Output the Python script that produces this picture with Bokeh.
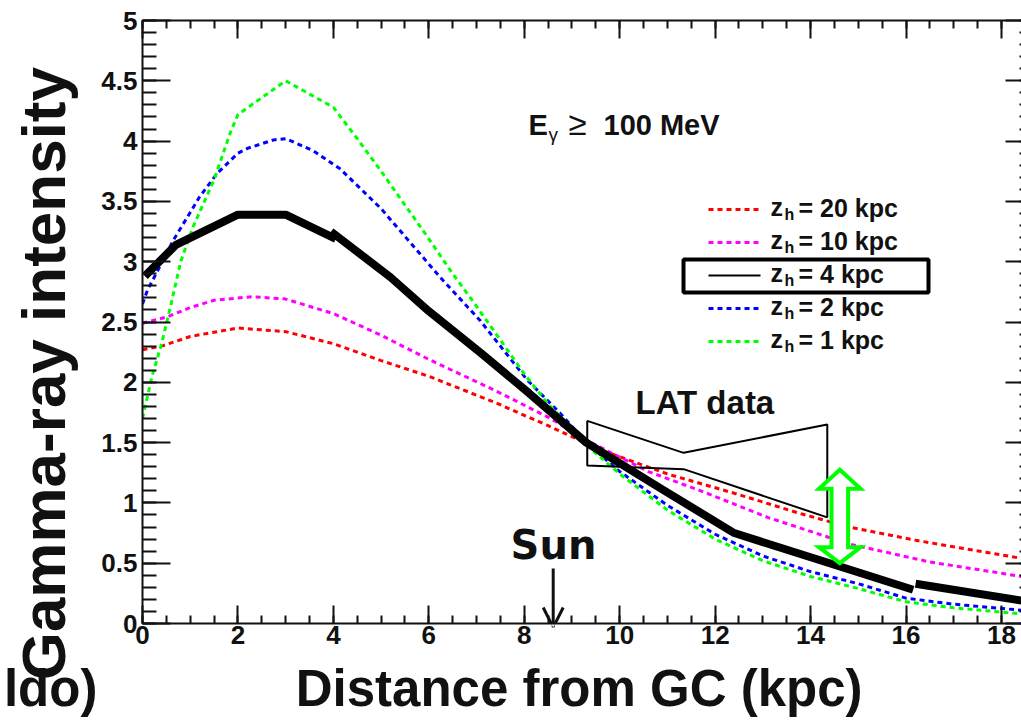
import math
from bokeh.plotting import figure
from bokeh.models import (Range1d, LinearAxis, SingleIntervalTicker, CustomJSTickFormatter,
                          Arrow, OpenHead)
from bokeh.core.properties import value
from bokeh.embed import file_html
from bokeh.resources import INLINE

nan = float("nan")
NBSP = "\u00a0"

# Gamma-ray intensity vs galactocentric distance for several halo heights z_h
r_20 = [0.0, 0.4, 1.0, 2.0, 3.0, 4.0, 5.0, 6.0, 7.4, 8.5, 9.6, 11.0, 12.4, 13.8, 14.8, 16.2, 18.42]
i_20 = [2.27, 2.30, 2.38, 2.45, 2.42, 2.32, 2.18, 2.05, 1.83, 1.64, 1.44, 1.24, 1.08, 0.91, 0.80, 0.69, 0.54]

r_10 = [0.0, 0.5, 1.0, 1.5, 2.3, 3.0, 4.0, 5.0, 6.0, 7.4, 8.5, 9.45, 10.6, 11.7, 13.1, 14.8, 16.5, 18.42]
i_10 = [2.49, 2.54, 2.62, 2.68, 2.71, 2.69, 2.57, 2.39, 2.19, 1.93, 1.71, 1.49, 1.26, 1.10, 0.88, 0.66, 0.51, 0.39]

# z_h = 4 kpc curve is drawn as a thick, piecewise line (NaN splits the pieces)
r_4 = [0.05, 0.7, 2.0, 3.0, 4.05, nan, 3.95, 5.2, 6.0, 7.1, 8.1, 9.3, 10.9, 12.4, 14.4, 16.15, nan, 16.2, 18.42]
i_4 = [2.88, 3.14, 3.39, 3.39, 3.19, nan, 3.25, 2.87, 2.59, 2.24, 1.91, 1.50, 1.11, 0.75, 0.50, 0.28, nan, 0.33, 0.19]

r_2 = [0.0, 0.1, 0.65, 1.2, 1.56, 2.0, 2.2, 2.75, 3.0, 3.58, 4.14, 5.0, 6.24, 7.08, 8.06, 8.76,
       9.3, 10.0, 11.0, 12.0, 13.0, 14.0, 15.0, 16.0, 17.0, 18.42]
i_2 = [2.65, 2.76, 3.18, 3.54, 3.73, 3.90, 3.94, 4.01, 4.02, 3.92, 3.77, 3.44, 2.87, 2.51, 2.02, 1.74,
       1.50, 1.26, 0.98, 0.74, 0.56, 0.43, 0.33, 0.21, 0.16, 0.11]

r_1 = [0.0, 0.2, 0.4, 0.6, 0.8, 1.05, 1.5, 1.85, 2.0, 3.0, 3.5, 4.0, 4.5, 5.0, 5.5, 6.0, 6.5, 7.0,
       7.5, 8.0, 8.5, 9.0, 9.3, 10.0, 11.0, 12.0, 13.0, 14.0, 15.0, 16.0, 17.0, 18.42]
i_1 = [1.70, 2.05, 2.32, 2.65, 3.00, 3.28, 3.68, 4.08, 4.22, 4.50, 4.39, 4.28, 4.02, 3.75, 3.47, 3.19,
       2.90, 2.63, 2.35, 2.07, 1.82, 1.62, 1.48, 1.24, 0.94, 0.70, 0.52, 0.39, 0.29, 0.18, 0.13, 0.08]

# LAT measurement band (upper and lower edges)
lat_r = [9.32, 11.34, 14.35]
lat_hi = [1.68, 1.415, 1.65]
lat_lo = [1.31, 1.28, 0.88]

legend_labels = ["20 kpc", "10 kpc", "4 kpc", "2 kpc", "1 kpc"]
legend_colors = ["#ff0000", "#ff00ff", "#000000", "#0000ff", "#00ff00"]

FONT = "Liberation Sans"
INK = "#111111"

W, H = 1021, 724
X_END = 18.42
p = figure(width=W, height=H, output_backend="svg", toolbar_location=None,
           x_range=Range1d(0, X_END), y_range=Range1d(0, 5),
           min_border_left=142, min_border_right=0, min_border_top=20, min_border_bottom=101,
           background_fill_color="white", border_fill_color="white")
p.outline_line_color = None
p.grid.visible = False

# pixel helpers for placing annotations relative to the frame
X0, KX = 142.0, (W - 142.0) / X_END
Y0, KY = 623.0, (623.0 - 20.0) / 5.0
def fx(px):
    return (px - X0) / KX
def fy(py):
    return (Y0 - py) / KY

xt = SingleIntervalTicker(interval=2, num_minor_ticks=4)
yt = SingleIntervalTicker(interval=0.5, num_minor_ticks=5)
fmt = CustomJSTickFormatter(code="return String(Math.round(tick*10)/10);")
blank = CustomJSTickFormatter(code="return '';")

def style_axis(ax, tin, mtin, labels=True):
    ax.axis_line_width = 2
    ax.axis_line_color = INK
    ax.major_tick_line_width = 2
    ax.minor_tick_line_width = 2
    ax.major_tick_line_color = INK
    ax.minor_tick_line_color = INK
    ax.major_tick_in = tin
    ax.major_tick_out = 0
    ax.minor_tick_in = mtin
    ax.minor_tick_out = 0
    if labels:
        ax.major_label_text_font = FONT
        ax.major_label_text_font_style = "bold"
        ax.major_label_text_font_size = "26px"
        ax.major_label_text_color = INK
    else:
        ax.formatter = blank
        ax.major_label_text_font_size = "0px"
        ax.major_label_standoff = 0

def style_title(ax, size, standoff):
    ax.axis_label_text_font = FONT
    ax.axis_label_text_font_style = "bold"
    ax.axis_label_text_font_size = size
    ax.axis_label_text_color = INK
    ax.axis_label_standoff = standoff

xa = p.xaxis[0]
xa.ticker = xt
xa.formatter = fmt
style_axis(xa, 18, 8)
xa.major_label_standoff = 2
# the corner note shares the baseline of the x title; no-break spaces set the gap
xa.axis_label = "ldo)" + NBSP * 14 + "Distance from GC (kpc)" + NBSP * 21
style_title(xa, "51px", 13)

ya = p.yaxis[0]
ya.ticker = yt
ya.formatter = fmt
style_axis(ya, 28, 14)
ya.major_label_standoff = 5
ya.axis_label = "Gamma-ray intensity" + NBSP * 6
style_title(ya, "62px", 20)

top = LinearAxis(ticker=xt)
style_axis(top, 18, 8, labels=False)
p.add_layout(top, "above")

right = LinearAxis(ticker=yt)
style_axis(right, 16, 2, labels=False)
right.axis_line_color = None
p.add_layout(right, "right")

# model curves
dot = "5 4"
p.line(r_20, i_20, line_color="#ff0000", line_width=3, line_dash=dot)
p.line(r_10, i_10, line_color="#ff00ff", line_width=3, line_dash=dot)
p.line(r_2, i_2, line_color="#0000ff", line_width=3, line_dash=dot)
p.line(r_1, i_1, line_color="#00ff00", line_width=3, line_dash=dot)
p.line(r_4, i_4, line_color="black", line_width=8)

# LAT data band
p.patch(lat_r + lat_r[::-1], lat_hi + lat_lo[::-1], fill_color=None,
        line_color="black", line_width=2)

# double-headed green arrow (outline)
cx = fx(839.3)
hw, sw = 20.8 / KX, 8.3 / KX
yt_tip, yb_tip = fy(469.3), fy(562.7)
yh1, yh2 = fy(488.3), fy(546.7)
ax_x = [cx, cx + hw, cx + sw, cx + sw, cx + hw, cx, cx - hw, cx - sw, cx - sw, cx - hw]
ax_y = [yt_tip, yh1, yh1, yh2, yh2, yb_tip, yh2, yh2, yh1, yh1]
p.patch(ax_x, ax_y, fill_color="white", line_color="#00ff00", line_width=4, line_join="miter")

def put(px, py, s, size, bold=True, font=FONT, align="left"):
    p.text([fx(px)], [fy(py)], text=[s], text_font=value(font),
           text_font_style="bold" if bold else "normal", text_font_size=size,
           text_align=align, text_baseline="middle", text_color=INK)

# legend
rows = [209, 242, 275, 308, 341]
for k, (lab, col) in enumerate(zip(legend_labels, legend_colors)):
    yc = rows[k]
    if col == "#000000":
        p.line([fx(708), fx(760)], [fy(yc), fy(yc)], line_color="black", line_width=2)
    else:
        p.line([fx(708), fx(760)], [fy(yc), fy(yc)], line_color=col, line_width=3, line_dash=dot)
    put(770, yc - 3, "z", "25px")
    put(784, yc + 5, "h", "16px")
    put(798, yc - 2, "= " + lab, "25px")
p.quad(left=[fx(683)], right=[fx(928)], top=[fy(259)], bottom=[fy(292)],
       fill_color=None, line_color="black", line_width=4)

# energy threshold
put(528, 124, "E", "29px")
put(548, 134, "γ", "19px", bold=False)
put(568, 123, "≥", "33px", bold=False)
put(603, 124, "100 MeV", "29px")

put(635, 402, "LAT data", "33px")

# Sun position marker
put(553, 544, "Sun", "40px", font="DejaVu Sans", align="center")
p.add_layout(Arrow(end=OpenHead(size=20, line_width=3, line_color=INK),
                   x_start=fx(552.7), y_start=fy(568), x_end=fx(552.7), y_end=fy(627),
                   line_width=3, line_color=INK))

open("out.html", "w").write(file_html(p, INLINE))
